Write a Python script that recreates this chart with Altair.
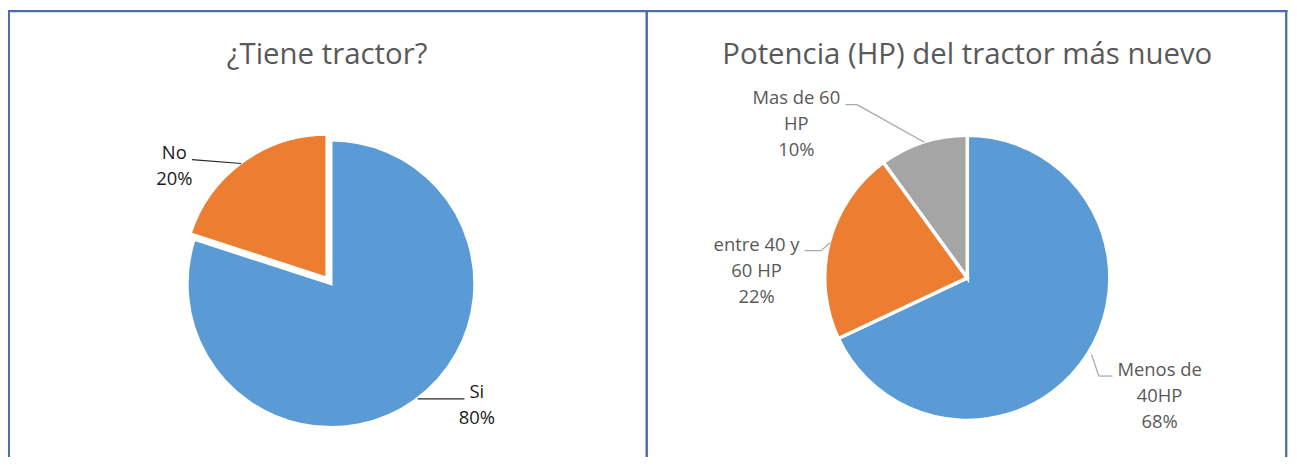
import math
import altair as alt
import pandas as pd

# ---------------- data ----------------
tiene_cats = ["Si", "No"]
tiene_vals = [80, 20]

hp_cats = ["Menos de 40HP", "entre 40 y 60 HP", "Mas de 60 HP"]
hp_vals = [68, 22, 10]

titles = ["¿Tiene tractor?", "Potencia (HP) del tractor más nuevo"]

# ---------------- styles / layout ----------------
BLUE, ORANGE, GREY = "#5B9BD5", "#ED7D31", "#A5A5A5"
BORDER = "#4a6fa8"
FONT = "Open Sans"
W, H = 1287, 450
LH = 26

# label wrapping (display only)
wrap = {
    "Si": "Si", "No": "No",
    "Menos de 40HP": "Menos de\n40HP",
    "entre 40 y 60 HP": "entre 40 y\n60 HP",
    "Mas de 60 HP": "Mas de 60\nHP",
}
# per-slice layout: explode, leader start / elbow / end offsets and label (block centre) offset
# (relative to the point on the arc edge at the slice mid-angle)
layout = {
    "Si": dict(explode=0, s=(3, 0), e=(3, 0), n=(50, 0), l=(62.5, 6.3)),
    "No": dict(explode=7, s=(-2, 0.5), e=(-2, 0.5), n=(-51.5, -3.3), l=(-69.3, 2.9)),
    "Menos de 40HP": dict(explode=0, s=(5.3, 1.2), e=(12.7, 22.9), n=(26.4, 22.9), l=(73.7, 43.2)),
    "entre 40 y 60 HP": dict(explode=0, s=(-1, 0), e=(-9.7, 7.9), n=(-26.4, 7.9), l=(-74.7, 28.7)),
    "Mas de 60 HP": dict(explode=0, s=(0.6, -1.7), e=(-67.1, -39.4), n=(-78.5, -39.4), l=(-128.1, -19.9)),
}


def make_table(cats, vals, colors):
    rows = []
    for i, (c, v, col) in enumerate(zip(cats, vals, colors)):
        L = layout[c]
        rows.append(dict(cat=c, value=v, order=i, color=col, wrapped=wrap[c],
                         explode=L["explode"],
                         sx=L["s"][0], sy=L["s"][1], ex=L["e"][0], ey=L["e"][1],
                         nx=L["n"][0], ny=L["n"][1], lx=L["l"][0], ly=L["l"][1]))
    return pd.DataFrame(rows)


def make_pie(cats, vals, colors, cx, cy, r, text_color, line_color, stroke_w):
    df = make_table(cats, vals, colors)
    total = sum(vals)
    base = (
        alt.Chart(df)
        .transform_joinaggregate(total="sum(value)")
        .transform_window(cum="sum(value)", sort=[alt.SortField("order")], frame=[None, 0])
        .transform_calculate(start="datum.cum - datum.value")
        .transform_calculate(mid="(datum.start + datum.value / 2) / datum.total * 2 * PI")
        .transform_calculate(
            acx=f"{cx} + datum.explode * sin(datum.mid)",
            acy=f"{cy} - datum.explode * cos(datum.mid)",
        )
        .transform_calculate(
            edx=f"datum.acx + {r} * sin(datum.mid)",
            edy=f"datum.acy - {r} * cos(datum.mid)",
        )
        .transform_calculate(
            label="datum.wrapped + '\\n' + datum.value + '%'",
        )
        .transform_calculate(
            x1="datum.edx + datum.sx", y1="datum.edy + datum.sy",
            x2="datum.edx + datum.ex", y2="datum.edy + datum.ey",
            x3="datum.edx + datum.nx", y3="datum.edy + datum.ny",
            tx="datum.edx + datum.lx",
            ty=f"datum.edy + datum.ly - (length(split(datum.label, '\\n')) - 1) * {LH / 2}",
        )
    )
    arcs = base.mark_arc(radius=r + stroke_w / 2, stroke="white", strokeWidth=stroke_w).encode(
        x=alt.X("acx:Q", scale=None),
        y=alt.Y("acy:Q", scale=None),
        theta=alt.Theta("start:Q", scale=alt.Scale(domain=[0, total], range=[0, 2 * math.pi])),
        theta2="cum:Q",
        color=alt.Color("color:N", scale=None),
    )
    seg1 = base.mark_rule(color=line_color, strokeWidth=1.2).encode(
        x=alt.X("x1:Q", scale=None), y=alt.Y("y1:Q", scale=None),
        x2="x2:Q", y2="y2:Q",
    )
    seg2 = base.mark_rule(color=line_color, strokeWidth=1.2).encode(
        x=alt.X("x2:Q", scale=None), y=alt.Y("y2:Q", scale=None),
        x2="x3:Q", y2="y3:Q",
    )
    labels = base.mark_text(
        align="center", baseline="middle", lineBreak="\n", lineHeight=LH,
        font=FONT, fontSize=18.5, color=text_color,
    ).encode(
        x=alt.X("tx:Q", scale=None), y=alt.Y("ty:Q", scale=None), text="label:N",
    )
    return [arcs, seg1, seg2, labels]


one = pd.DataFrame({"k": [0]})


def title_layer(text, x, y):
    return alt.Chart(one).mark_text(
        font=FONT, fontSize=29.5, color="#595959", align="center", baseline="alphabetic"
    ).encode(x=alt.value(x), y=alt.value(y), text=alt.value(text))


def rule(x, x2, y, y2, w):
    return alt.Chart(one).mark_rule(color=BORDER, strokeWidth=w).encode(
        x=alt.value(x), x2=alt.value(x2), y=alt.value(y), y2=alt.value(y2)
    )


layers = []
layers += make_pie(tiene_cats, tiene_vals, [BLUE, ORANGE], 324.5, 276, 143,
                   "#1a1a1a", "#262626", 3)
layers += make_pie(hp_cats, hp_vals, [BLUE, ORANGE, GREY], 963.8, 270, 141.5,
                   "#595959", "#A6A6A6", 3.5)
layers += [
    title_layer(titles[0], 320.6, 55),
    title_layer(titles[1], 963.8, 55),
    rule(0, 1285.5, 2, 2, 2.3),
    rule(1, 1, 1, H, 2),
    rule(641.7, 641.7, 1, H, 2.5),
    rule(1284.2, 1284.2, 1, H, 2.3),
]

chart = (
    alt.layer(*layers)
    .properties(width=W, height=H, autosize=alt.AutoSizeParams(type="none"), padding=0,
                background="white")
    .configure_view(stroke=None)
)

chart.save("out.html", embed_options={"renderer": "svg", "actions": False})
